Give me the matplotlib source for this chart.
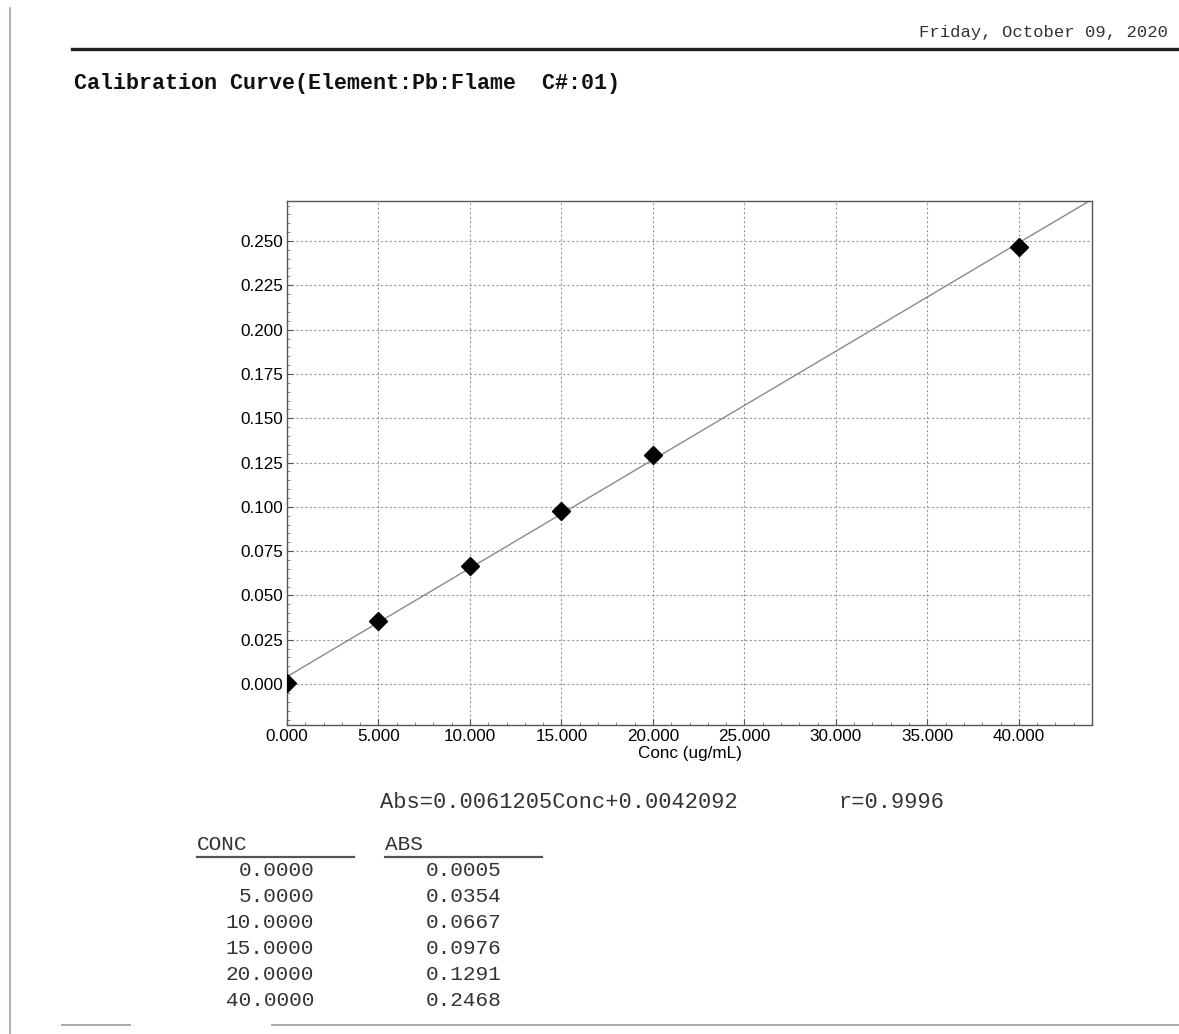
import matplotlib.pyplot as plt
import numpy as np
from matplotlib.ticker import MultipleLocator, FormatStrFormatter

W, H = 1179, 1034

# calibration data
conc = [0.0, 5.0, 10.0, 15.0, 20.0, 40.0]
abs_vals = [0.0005, 0.0354, 0.0667, 0.0976, 0.1291, 0.2468]
slope = 0.0061205
intercept = 0.0042092
r_value = 0.9996

date_text = "Friday, October 09, 2020"
title_text = "Calibration Curve(Element:Pb:Flame  C#:01)"
x_ticks = [0, 5, 10, 15, 20, 25, 30, 35, 40]
y_ticks = [0.0, 0.025, 0.05, 0.075, 0.1, 0.125, 0.15, 0.175, 0.2, 0.225, 0.25]


def fx(px):
    return px / W


def fy(py):
    return 1 - py / H


fig = plt.figure(figsize=(W / 100, H / 100), dpi=100)
fig.patch.set_facecolor("white")

mono = ["Liberation Mono", "DejaVu Sans Mono"]
sans = ["Liberation Sans", "DejaVu Sans"]

# page decorations
fig.add_artist(plt.Line2D([fx(10), fx(10)], [fy(8), fy(1034)], color="#9aa3b5", lw=1.2))
fig.add_artist(plt.Line2D([fx(72), fx(1179)], [fy(49), fy(49)], color="#222222", lw=2.4))
fig.add_artist(plt.Line2D([fx(62), fx(130)], [fy(1025), fy(1025)], color="#999999", lw=1.2))
fig.add_artist(plt.Line2D([fx(272), fx(1179)], [fy(1025), fy(1025)], color="#999999", lw=1.2))

fig.text(fx(1168), fy(32), date_text, family=mono, fontsize=12.4, ha="right", va="center", color="#333333")
fig.text(fx(74), fy(83), title_text, family=mono, fontsize=15.7, weight="bold", ha="left", va="center", color="#111111")

# chart
ax = fig.add_axes([fx(287), fy(725), fx(1092) - fx(287), fy(201) - fy(725)])
xs = np.array([0, 44])
ax.plot(xs, slope * xs + intercept, color="#8a8a8a", lw=1.0, zorder=2)
ax.plot(conc, abs_vals, "D", color="black", ms=9, zorder=3)

ax.set_xlim(0, 44)
ax.set_ylim(-0.0231, 0.2726)
ax.set_xticks(x_ticks)
ax.set_yticks(y_ticks)
ax.xaxis.set_major_formatter(FormatStrFormatter("%.3f"))
ax.yaxis.set_major_formatter(FormatStrFormatter("%.3f"))
ax.xaxis.set_minor_locator(MultipleLocator(1))
ax.yaxis.set_minor_locator(MultipleLocator(0.005))
ax.tick_params(which="major", direction="in", length=4, width=0.8, color="#555555", pad=3)
ax.tick_params(which="minor", direction="in", length=2, width=0.6, color="#777777")
for lab in ax.get_xticklabels() + ax.get_yticklabels():
    lab.set_family(sans)
    lab.set_fontsize(12.3)
    lab.set_color("#000000")
ax.grid(True, which="major", ls=(0, (2, 2)), color="#999999", lw=0.8)
for s in ax.spines.values():
    s.set_color("#555555")
    s.set_linewidth(1.0)
ax.set_xlabel("Conc (ug/mL)", family=sans, fontsize=12.3, color="#000000", labelpad=1)

# equation
fig.text(fx(380), fy(802), "Abs=%.7fConc+%.7f" % (slope, intercept), family=mono, fontsize=15.8,
         ha="left", va="center", color="#333333")
fig.text(fx(838), fy(802), "r=%.4f" % r_value, family=mono, fontsize=15.8, ha="left", va="center", color="#333333")

# table
fig.text(fx(197), fy(845), "CONC", family=mono, fontsize=15.2, ha="left", va="center", color="#333333")
fig.text(fx(385), fy(845), "ABS", family=mono, fontsize=15.2, ha="left", va="center", color="#333333")
fig.add_artist(plt.Line2D([fx(197), fx(354)], [fy(857), fy(857)], color="#555555", lw=1.6))
fig.add_artist(plt.Line2D([fx(385), fx(542)], [fy(857), fy(857)], color="#555555", lw=1.6))
for i, (c, a) in enumerate(zip(conc, abs_vals)):
    y = 871 + 26 * i
    fig.text(fx(314), fy(y), "%.4f" % c, family=mono, fontsize=15.2, ha="right", va="center", color="#333333")
    fig.text(fx(502), fy(y), "%.4f" % a, family=mono, fontsize=15.2, ha="right", va="center", color="#333333")

fig.savefig("out.png", dpi=100)
